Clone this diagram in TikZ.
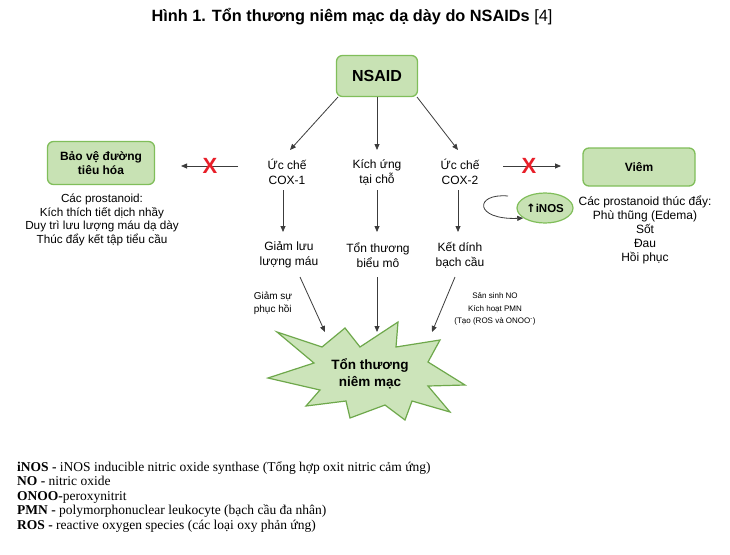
\documentclass[tikz,border=0pt]{standalone}
\usepackage{fontspec}
\setmainfont{Liberation Sans}
\newfontfamily\legfont{Liberation Serif}
\newfontfamily\symfont{DejaVu Sans}
\usetikzlibrary{arrows.meta,shapes.geometric}
\definecolor{boxfill}{RGB}{200,226,180}
\definecolor{boxline}{RGB}{128,190,90}
\definecolor{starfill}{RGB}{204,228,186}
\definecolor{starline}{RGB}{110,168,75}
\definecolor{arr}{RGB}{60,60,60}
\definecolor{xred}{RGB}{232,30,40}
\tikzset{
  gbox/.style={draw=boxline, line width=1.3pt, fill=boxfill, rounded corners=6pt, align=center, font=\bfseries\fontsize{12}{14}\selectfont},
  txt/.style={align=center, font=\fontsize{12}{15}\selectfont, inner sep=0pt},
  small/.style={align=center, font=\fontsize{8}{12.3}\selectfont, inner sep=0pt},
  conn/.style={draw=arr, line width=0.8pt, -{Triangle[length=6pt,width=5pt]}},
  redx/.style={text=xred, font=\bfseries\fontsize{22}{22}\selectfont, inner sep=0pt},
  leg/.style={anchor=base west, font=\legfont\fontsize{13.5}{14}\selectfont, inner sep=0pt},
}
\begin{document}
\begin{tikzpicture}[x=1pt,y=-1pt]
\useasboundingbox (0,0) rectangle (730,554);
\fill[white] (0,0) rectangle (730,554);

\node[font=\bfseries\fontsize{16.3}{18}\selectfont] (title) at (352,17) {Hình 1. Tổn thương niêm mạc dạ dày do NSAIDs \mdseries[4]};

\node[gbox, minimum width=81pt, minimum height=41pt, font=\bfseries\fontsize{16}{18}\selectfont] (nsaid) at (377,76) {NSAID};

\node[txt] (cox1) at (287,172) {Ức chế\\COX-1};
\node[txt] (kich) at (377,172) {Kích ứng\\tại chỗ};
\node[txt] (cox2) at (460,172) {Ức chế\\COX-2};

\coordinate (n1) at (338,97);
\coordinate (n2) at (377,97);
\coordinate (n3) at (417,97);
\coordinate (t1) at (290,150);
\coordinate (t2) at (377,150);
\coordinate (t3) at (458,150);
\draw[conn] (n1) -- (t1);
\draw[conn] (n2) -- (t2);
\draw[conn] (n3) -- (t3);

\node[txt] (giam) at (289,255) {Giảm lưu\\lượng máu};
\node[txt] (bieu) at (378,255) {Tổn thương\\biểu mô};
\node[txt] (ket) at (460,255) {Kết dính\\bạch cầu};

\coordinate (d1s) at (283,190); \coordinate (d1e) at (283,232);
\coordinate (d2s) at (377,190); \coordinate (d2e) at (377,232);
\coordinate (d3s) at (458,190); \coordinate (d3e) at (458,232);
\draw[conn] (d1s) -- (d1e);
\draw[conn] (d2s) -- (d2e);
\draw[conn] (d3s) -- (d3e);

% star
\filldraw[fill=starfill, draw=starline, line width=1.2pt, line join=miter]
 (277,332) -- (322,347) -- (345,328) -- (360,347) -- (398,322) -- (396,347)
 -- (440,340) -- (428,362) -- (465,385) -- (428,386) -- (450,412) -- (412,401)
 -- (405,420) -- (385,405) -- (350,418) -- (346,401) -- (306,406) -- (320,390)
 -- (268,378) -- (314,363) -- cycle;
\node[font=\bfseries\fontsize{13.5}{17}\selectfont, align=center] (dmg) at (370,374) {Tổn thương\\niêm mạc};

\coordinate (s1s) at (300,277); \coordinate (s1e) at (325,332);
\coordinate (s2s) at (377,277); \coordinate (s2e) at (377,332);
\coordinate (s3s) at (455,277); \coordinate (s3e) at (432,332);
\draw[conn] (s1s) -- (s1e);
\draw[conn] (s2s) -- (s2e);
\draw[conn] (s3s) -- (s3e);

\node[small, align=left, font=\fontsize{10}{13}\selectfont] (gsu) at (273,303) {Giảm sự\\phục hồi};
\node[small] (sansinh) at (495,309) {Sản sinh NO\\Kích hoạt PMN\\(Tạo (ROS và ONOO\textsuperscript{-})};

% left
\node[gbox, minimum width=107pt, minimum height=43pt] (bao) at (101,163) {Bảo vệ đường\\tiêu hóa};
\coordinate (la) at (238,166);
\coordinate (lb) at (181,166);
\draw[conn] (la) -- (lb);
\node[redx] (x1) at (210,166) {X};
\node[txt, font=\fontsize{11.7}{13.7}\selectfont] (ltext) at (102,220) {Các prostanoid:\\Kích thích tiết dịch nhầy\\Duy trì lưu lượng máu dạ dày\\Thúc đẩy kết tập tiểu cầu};

% right
\node[gbox, minimum width=112pt, minimum height=38pt] (viem) at (639,167) {Viêm};
\coordinate (ra) at (503,166);
\coordinate (rb) at (561,166);
\draw[conn] (ra) -- (rb);
\node[redx] (x2) at (529,166) {X};

\node[ellipse, draw=boxline, line width=1.2pt, fill=boxfill, minimum width=56pt, minimum height=30pt, inner sep=0pt, font=\bfseries\fontsize{11.5}{12}\selectfont] (inos) at (545,208) {{\symfont\bfseries ↑}iNOS};
\coordinate (loop) at (508,196);
\draw[conn] (loop) .. controls (474,193) and (474,220) .. (inos.205);

\node[txt, font=\fontsize{12}{14}\selectfont] (rtext) at (645,230) {Các prostanoid thúc đẩy:\\Phù thũng (Edema)\\Sốt\\Đau\\Hồi phục};

% legend
\node[leg] (l1) at (17,471) {\textbf{iNOS -} iNOS inducible nitric oxide synthase (Tổng hợp oxit nitric cảm ứng)};
\node[leg] (l2) at (17,485.6) {\textbf{NO -} nitric oxide};
\node[leg] (l3) at (17,500.2) {\textbf{ONOO-}peroxynitrit};
\node[leg] (l4) at (17,514.8) {\textbf{PMN -} polymorphonuclear leukocyte (bạch cầu đa nhân)};
\node[leg] (l5) at (17,529.4) {\textbf{ROS -} reactive oxygen species (các loại oxy phản ứng)};
\end{tikzpicture}
\end{document}
